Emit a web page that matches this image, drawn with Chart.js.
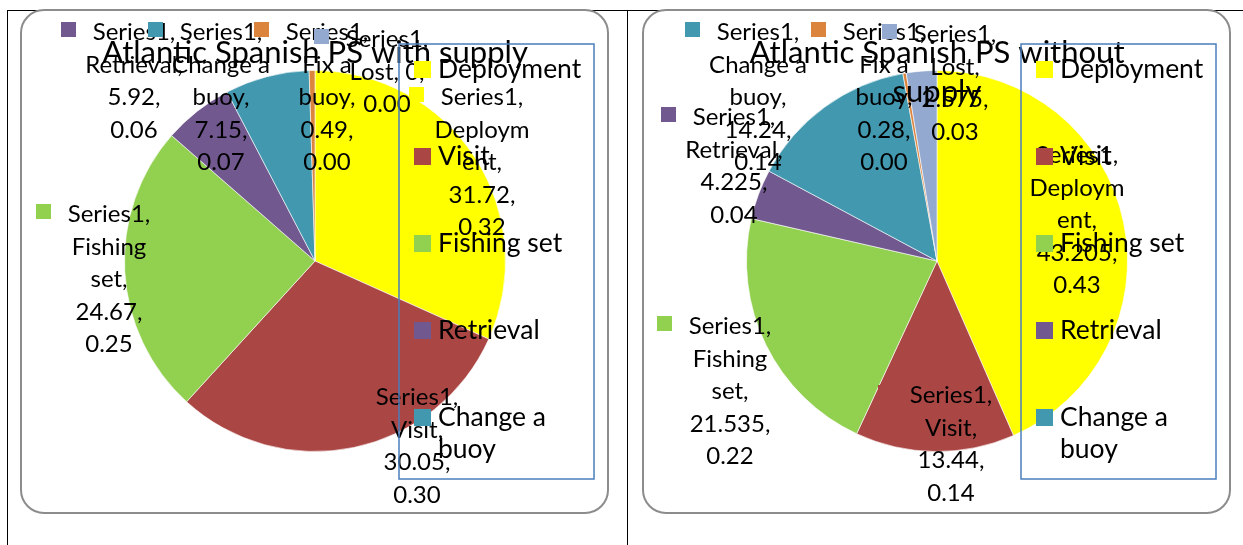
<!DOCTYPE html>
<html>
<head>
<meta charset="utf-8">
<title>Atlantic Spanish PS</title>
<script src="https://cdn.jsdelivr.net/npm/chart.js@4.4.1/dist/chart.umd.min.js"></script>
<style>
  html, body { margin: 0; padding: 0; background: #fff; }
  body { width: 1243px; height: 545px; position: relative; overflow: hidden; }
  .rule { position: absolute; background: #000; }
  canvas { position: absolute; top: 0; }
  #chartWith { left: 0; }
  #chartWithout { left: 622px; }
</style>
</head>
<body>
<!-- linhas da tabela do documento -->
<div class="rule" style="left:7px; top:10px; width:1236px; height:1px;"></div>
<div class="rule" style="left:7px; top:10px; width:1px; height:535px;"></div>
<div class="rule" style="left:627px; top:10px; width:1px; height:535px;"></div>

<canvas id="chartWith" width="622" height="545"></canvas>
<canvas id="chartWithout" width="622" height="545"></canvas>

<script>
// Dados
const categories = ['Deployment', 'Visit', 'Fishing set', 'Retrieval', 'Change a buoy', 'Fix a buoy', 'Lost'];
const seriesName = 'Series1';
const withSupply = [31.72, 30.05, 24.67, 5.92, 7.15, 0.49, 0];
const withoutSupply = [43.205, 13.44, 21.535, 4.225, 14.24, 0.28, 2.575];
const sliceColors = ['#FFFF00', '#AA4643', '#92D050', '#71588F', '#4198AF', '#DB843D', '#93A9CF'];

// Posição dos rótulos (foram arrastados à mão no Excel), relativa ao centro da pizza
const spotsWith = [[167, -156], [102, 144], [-206, -39], [-181, -221], [-94, -221], [12, -221], [72, -214]];
const spotsWithout = [[140, -98], [14, 142], [-207, 73], [-203, -136], [-179, -221], [-53, -221], [18, -219]];

const FONT = 'Lato, "Open Sans", sans-serif';
const TITLE_SIZE = 31;
const LABEL_SIZE = 24;
const LEGEND_SIZE = 26.5;

// Quebra de linha parecida com a do Excel (quebra a palavra se não couber)
function wrapText(ctx, text, maxW) {
  const words = text.split(' ');
  const lines = [];
  let line = '';
  words.forEach(word => {
    const test = line ? line + ' ' + word : word;
    if (ctx.measureText(test).width <= maxW) { line = test; return; }
    if (line) lines.push(line);
    line = word;
    while (ctx.measureText(line).width > maxW && line.length > 1) {
      let n = line.length - 1;
      while (n > 1 && ctx.measureText(line.slice(0, n)).width > maxW) n--;
      lines.push(line.slice(0, n));
      line = line.slice(n);
    }
  });
  if (line) lines.push(line);
  return lines;
}

const excelPiePlugin = {
  id: 'excelPie',
  beforeDraw(chart) {
    const ctx = chart.ctx;
    const arc = chart.getDatasetMeta(0).data[0];
    ctx.save();
    ctx.beginPath();
    ctx.roundRect(arc.x - 294, 10, 587, 503, 23);
    ctx.fillStyle = '#fff';
    ctx.fill();
    ctx.lineWidth = 2;
    ctx.strokeStyle = '#8c8c8c';
    ctx.stroke();
    ctx.restore();
  },
  afterDraw(chart, args, opts) {
    const ctx = chart.ctx;
    const arc = chart.getDatasetMeta(0).data[0];
    const cx = arc.x, cy = arc.y;
    const ds = chart.data.datasets[0];
    const total = ds.data.reduce((a, b) => a + b, 0);
    ctx.save();
    ctx.fillStyle = '#000';
    ctx.textBaseline = 'alphabetic';

    // Título
    ctx.font = `${TITLE_SIZE}px ${FONT}`;
    ctx.textAlign = 'center';
    wrapText(ctx, opts.title, 452).forEach((ln, k) => ctx.fillText(ln, cx, 63 + k * 39));

    // Rótulos de dados com chave de legenda
    ctx.font = `${LABEL_SIZE}px ${FONT}`;
    ds.data.forEach((v, i) => {
      const text = `${seriesName}, ${chart.data.labels[i]}, ${v}, ${(v / total).toFixed(2)}`;
      const lines = wrapText(ctx, text, 98);
      const x = cx + opts.spots[i][0];
      const y = cy + opts.spots[i][1];
      const w1 = ctx.measureText(lines[0]).width;
      ctx.fillStyle = ds.backgroundColor[i];
      ctx.fillRect(Math.round(x - w1 / 2 - 32), y - 18, 15, 15);
      ctx.fillStyle = '#000';
      ctx.textAlign = 'center';
      lines.forEach((ln, k) => ctx.fillText(ln, x, y + k * 32.5));
    });

    // Legenda (caixa azul, só cabem 5 itens)
    const boxX = cx + 84, boxY = 44, boxW = 195, boxH = 435;
    ctx.lineWidth = 1.5;
    ctx.strokeStyle = '#4A7EBB';
    ctx.strokeRect(boxX, boxY, boxW, boxH);
    ctx.font = `${LEGEND_SIZE}px ${FONT}`;
    ctx.textAlign = 'left';
    chart.data.labels.forEach((lab, i) => {
      const base = boxY + 34 + i * 87;
      const lines = wrapText(ctx, lab, 150);
      if (base + (lines.length - 1) * 32 > boxY + boxH) return;
      ctx.fillStyle = ds.backgroundColor[i];
      ctx.fillRect(boxX + 15, base - 17, 17, 17);
      ctx.fillStyle = '#000';
      lines.forEach((ln, k) => ctx.fillText(ln, boxX + 39, base + k * 32));
    });
    ctx.restore();
  }
};

function makePie(id, values, title, spots) {
  return new Chart(document.getElementById(id), {
    type: 'pie',
    data: {
      labels: categories,
      datasets: [{
        label: seriesName,
        data: values,
        backgroundColor: sliceColors,
        borderColor: 'rgba(255,255,255,0.6)',
        borderWidth: 1
      }]
    },
    options: {
      responsive: false,
      animation: false,
      events: [],
      layout: { padding: { left: 124, right: 116, top: 70, bottom: 93 } },
      plugins: {
        legend: { display: false },
        title: { display: false },
        tooltip: { enabled: false },
        excelPie: { title: title, spots: spots }
      }
    },
    plugins: [excelPiePlugin]
  });
}

makePie('chartWith', withSupply, 'Atlantic Spanish PS with supply', spotsWith);
makePie('chartWithout', withoutSupply, 'Atlantic Spanish PS without supply', spotsWithout);
</script>
</body>
</html>
